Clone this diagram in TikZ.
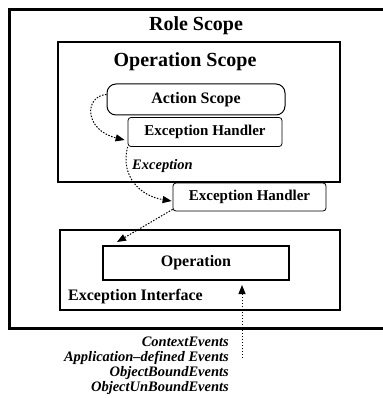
\documentclass[tikz,border=0pt]{standalone}
\usepackage{fontspec}
\setmainfont{Liberation Serif}
\usetikzlibrary{arrows.meta}
\begin{document}
\begin{tikzpicture}[x=1pt,y=-1pt,
  box/.style={draw,rectangle,inner sep=0pt,minimum width=#1},
  title/.style={font=\fontsize{20}{24}\selectfont\bfseries,inner sep=0pt},
  boxlabel/.style={font=\fontsize{16}{19}\selectfont\bfseries,inner sep=0pt},
  handler/.style={draw,rectangle,rounded corners=3pt,line width=0.8pt,
    minimum width=#1,minimum height=29pt,inner sep=0pt,
    font=\fontsize{15}{18}\selectfont\bfseries},
  evtext/.style={font=\fontsize{14.5}{15}\selectfont\bfseries\itshape,inner sep=0pt},
  flow/.style={dash pattern=on 1.5pt off 1.5pt,line width=1pt,
    -{Triangle[length=9pt,width=7pt]}}]
\useasboundingbox (0,0) rectangle (382,398);

% nested scopes
\node[box=381pt,minimum height=318pt,line width=3pt] (role) at (199.5,169) {};
\node[title] (roletitle) at (196,26) {Role Scope};
\node[box=282pt,minimum height=140pt,line width=1.5pt] (opscope) at (199,112) {};
\node[title] (optitle) at (185,62) {Operation Scope};
\node[draw,rectangle,rounded corners=9pt,line width=1pt,minimum width=178pt,
  minimum height=31pt,inner sep=0pt,font=\fontsize{16}{19}\selectfont\bfseries]
  (act) at (196,99.5) {Action Scope};
\node[handler=154pt] (eh1) at (205,132) {Exception Handler};
\node[evtext,anchor=west] (exc) at (132,166) {Exception};
\node[handler=153pt,minimum height=28pt] (eh2) at (249.5,197) {Exception Handler};

% exception interface
\node[box=280pt,minimum height=80pt,line width=1.5pt] (iface) at (200,270) {};
\node[box=186pt,minimum height=34pt,line width=2pt,boxlabel] (op) at (196,263) {Operation};
\node[boxlabel,anchor=west] (ifacelabel) at (68,297) {Exception Interface};

% incoming events
\node[evtext,align=right,anchor=east] (events) at (229,366)
  {ContextEvents\\Application--defined Events\\ObjectBoundEvents\\ObjectUnBoundEvents};
\coordinate (evsrc) at (242,358);
\coordinate (hit) at (117,242);

% propagation of the exception
\draw[flow] (act.west) ++(0,-5) .. controls (84,96) and (84,130) .. ([xshift=-3pt,yshift=-8pt]eh1.west);
\draw[flow] (eh1.south west) .. controls (120,176) and (140,196) .. ([xshift=-1pt,yshift=-4pt]eh2.west);
\draw[flow] ([yshift=2pt]eh2.south west) -- (hit);
\draw[flow,shorten >=4pt] (evsrc) -- (evsrc |- op.south);
\end{tikzpicture}
\end{document}
